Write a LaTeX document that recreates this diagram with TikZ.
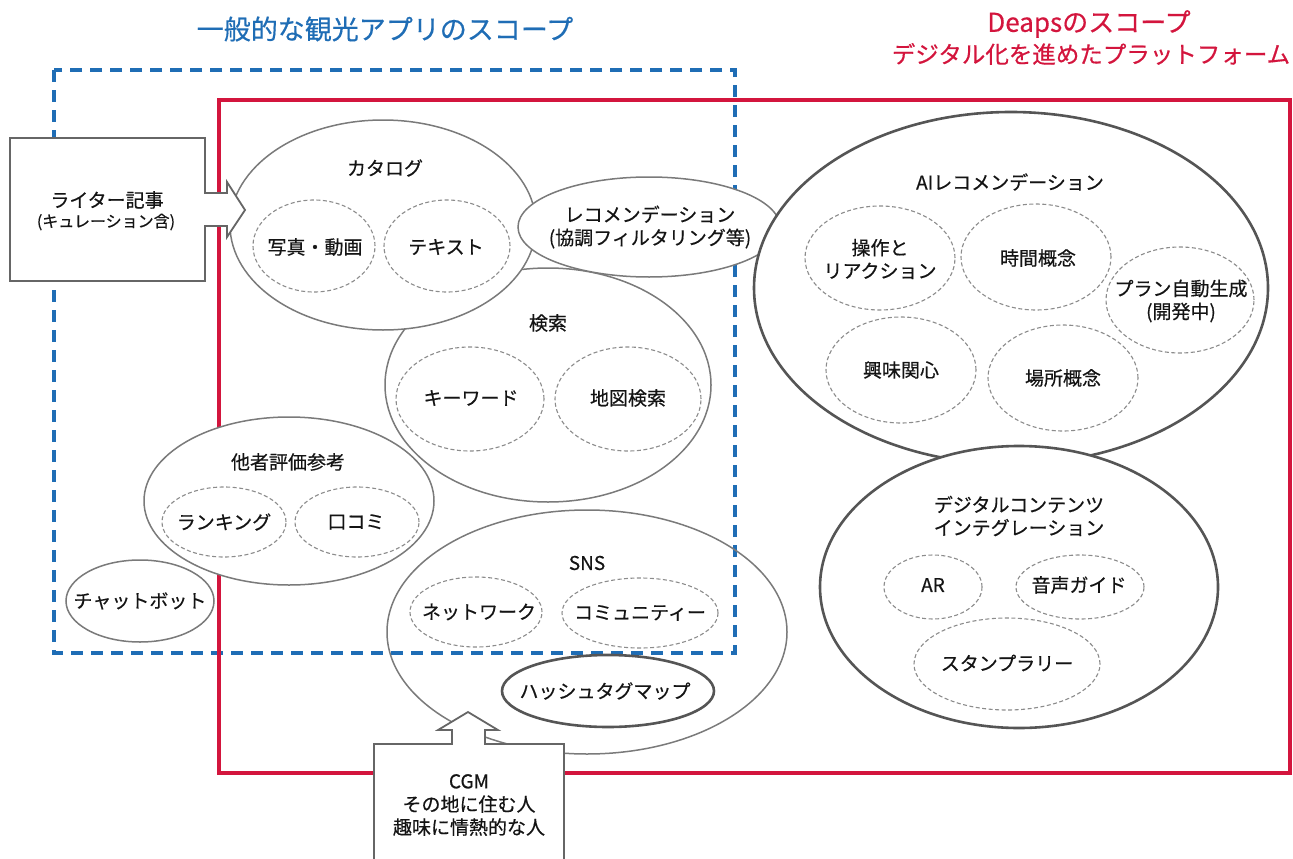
\documentclass[tikz,border=0pt]{standalone}
\usepackage{fontspec}
\setmainfont{Noto Sans CJK JP}[FakeBold=0.45]
\usetikzlibrary{shapes.geometric}
\definecolor{bluec}{HTML}{1F6DB5}
\definecolor{redc}{HTML}{D3153D}
\definecolor{outl}{HTML}{7A7A7A}
\definecolor{dark}{HTML}{555555}
\definecolor{dsh}{HTML}{8C8C8C}
\definecolor{txt}{HTML}{141414}
\begin{document}
\begin{tikzpicture}[x=1pt,y=-1pt,
  sz/.style 2 args={minimum width=#1pt, minimum height=#2pt},
  outer/.style={ellipse, draw=outl, line width=1.5pt, fill=white, inner sep=0},
  heavy/.style={ellipse, draw=dark, line width=2.6pt, fill=white, inner sep=0},
  innerell/.style={ellipse, draw=dsh, line width=1.1pt, dash pattern=on 4pt off 2.5pt, inner sep=0},
  lbl/.style={font=\fontsize{19}{23}\selectfont, text=txt, align=center, inner sep=0},
  sml/.style={font=\fontsize{16}{18}\selectfont, text=txt, align=center, inner sep=0},
  srcbox/.style={draw=dark!90, line width=1.8pt, fill=white, line join=miter}
]
\useasboundingbox (0,0) rectangle (1293,859);
% titles
\node[inner sep=0, text=bluec, font=\fontsize{27}{30}\selectfont] (t1) at (385,29) {一般的な観光アプリのスコープ};
\node[inner sep=0, text=redc, font=\fontsize{26}{30}\selectfont] (t2) at (1089,24) {Deapsのスコープ};
\node[inner sep=0, text=redc, font=\fontsize{23.5}{28}\selectfont] (t3) at (1091,54) {デジタル化を進めたプラットフォーム};
% scopes
\draw[bluec, line width=3.2pt, dash pattern=on 12pt off 8pt] (54,70) rectangle (735,653);
\draw[redc, line width=4.5pt] (219,100) rectangle (1290,773);
% search
\node[outer, sz={326}{234}] (srch) at (548,385) {};
\node[innerell, sz={148}{104}] (kw) at (470,399) {};
\node[innerell, sz={146}{104}] (mapc) at (628,399) {};
% SNS
\node[ellipse, draw=outl, line width=1.5pt, inner sep=0, sz={400}{244}] (sns) at (587,632) {};
\node[innerell, sz={132}{70}] (net) at (476,612) {};
\node[innerell, sz={156}{70}] (com) at (640,613) {};
\node[heavy, sz={212}{72}] (hash) at (608,691) {};
% catalog
\node[outer, sz={306}{210}] (cat) at (383,225) {};
\node[innerell, sz={122}{92}] (photo) at (314,246) {};
\node[innerell, sz={126}{92}] (textc) at (447,246) {};
% recommendation
\node[outer, sz={262}{100}] (rec) at (649,227) {};
% reviews
\node[outer, sz={290}{168}] (rev) at (289,501) {};
\node[innerell, sz={124}{70}] (rank) at (224,522) {};
\node[innerell, sz={124}{70}] (kuchi) at (357,522) {};
% chatbot
\node[outer, sz={148}{82}] (chat) at (140,601) {};
% AI
\node[heavy, sz={514}{352}] (ai) at (1011,288) {};
\node[innerell, sz={150}{104}] (op) at (880,258) {};
\node[innerell, sz={150}{106}] (timec) at (1036,257) {};
\node[innerell, sz={148}{106}] (plan) at (1180,300) {};
\node[innerell, sz={150}{106}] (intc) at (901,370) {};
\node[innerell, sz={150}{106}] (place) at (1063,378) {};
% DCI
\node[heavy, sz={398}{282}] (dci) at (1019,587) {};
\node[innerell, sz={98}{64}] (arc) at (933,587) {};
\node[innerell, sz={128}{64}] (audio) at (1080,587) {};
\node[innerell, sz={186}{92}] (stamp) at (1007,664) {};
% source boxes with arrows
\draw[srcbox] (10,138) -- (205,138) -- (205,193) -- (227,193) -- (227,182) -- (245,210) -- (227,237) -- (227,226) -- (205,226) -- (205,281) -- (10,281) -- cycle;
\draw[srcbox] (374,862) -- (374,744) -- (452,744) -- (452,730) -- (438,730) -- (468,712) -- (498,730) -- (485,730) -- (485,744) -- (564,744) -- (564,862);
% labels
\node[lbl] (lw1) at (107,200) {ライター記事};
\node[sml] (lw2) at (106,222) {(キュレーション含)};
\node[lbl] (lcat) at (385,168) {カタログ};
\node[lbl] (lphoto) at (315,247) {写真・動画};
\node[lbl] (ltext) at (446,247) {テキスト};
\node[lbl] (lrec) at (650,227) {レコメンデーション\\(協調フィルタリング等)};
\node[lbl] (lsrch) at (548,323) {検索};
\node[lbl] (lkw) at (471,398) {キーワード};
\node[lbl] (lmap) at (628,398) {地図検索};
\node[lbl] (lrev) at (288,462) {他者評価参考};
\node[lbl] (lrank) at (224,522) {ランキング};
\node[lbl] (lkuchi) at (356,522) {口コミ};
\node[lbl] (lchat) at (140,601) {チャットボット};
\node[lbl] (lsns) at (587,563) {SNS};
\node[lbl] (lnet) at (479,612) {ネットワーク};
\node[lbl] (lcom) at (640,613) {コミュニティー};
\node[lbl] (lhash) at (605,691) {ハッシュタグマップ};
\node[lbl] (lcgm) at (469,805) {CGM\\その地に住む人\\趣味に情熱的な人};
\node[lbl] (lai) at (1010,182) {AIレコメンデーション};
\node[lbl] (lop) at (880,259) {操作と\\リアクション};
\node[lbl] (ltime) at (1038,258) {時間概念};
\node[lbl] (lplan) at (1181,301) {プラン自動生成\\(開発中)};
\node[lbl] (lint) at (901,370) {興味関心};
\node[lbl] (lplace) at (1063,378) {場所概念};
\node[lbl] (ldci) at (1019,516) {デジタルコンテンツ\\インテグレーション};
\node[lbl] (lar) at (933,585) {AR};
\node[lbl] (laudio) at (1079,585) {音声ガイド};
\node[lbl] (lstamp) at (1007,663) {スタンプラリー};
\end{tikzpicture}
\end{document}
